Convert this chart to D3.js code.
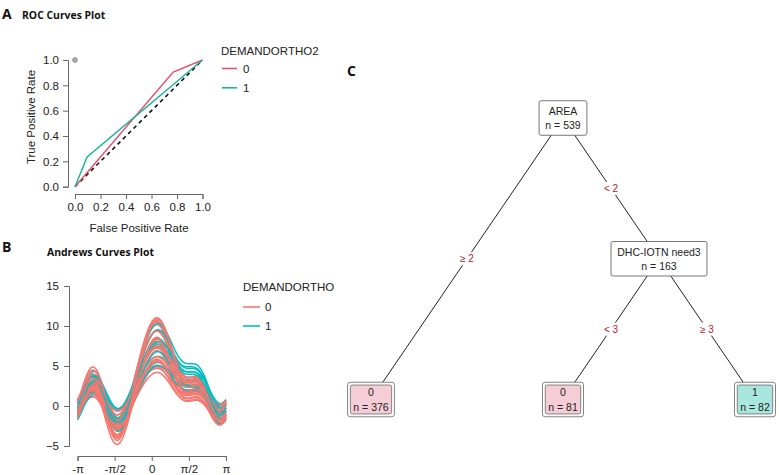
<!DOCTYPE html>
<html><head><meta charset="utf-8">
<script src="https://cdn.jsdelivr.net/npm/d3@7"></script>
<style>body{margin:0;background:#fff} svg{display:block;font-family:"Liberation Sans",Arial,sans-serif}</style>
</head><body><svg id="c" width="779" height="475"></svg>
<script>
// ---------- Panel A: ROC ----------
const rocGroups = ["0", "1"];
const rocFpr0 = [0, 0.77, 1];
const rocTpr0 = [0, 0.905, 1];
const rocFpr1 = [0, 0.095, 1];
const rocTpr1 = [0, 0.235, 1];
const rocTicks = [0, 0.2, 0.4, 0.6, 0.8, 1.0];
const rocPoint = [0, 1];

// ---------- Panel B: Andrews curves (observation rows, coefficients x1..x9) ----------
const andrewsGroups = ["0", "1"];
const andrewsRows0 = [
  [2.89, 1.37, 2.39, 1.30, 1.73, -0.73, 1.26, 0.40, -0.41],
  [3.62, 2.06, 3.59, 1.95, 2.59, -1.10, 1.89, 0.60, -0.62],
  [2.15, 0.82, 1.43, 0.78, 1.04, -0.44, 0.76, 0.24, -0.25],
  [4.17, 1.64, 2.87, 1.56, 2.07, -0.88, 1.51, 0.48, -0.49],
  [0.90, 1.10, 1.91, 1.04, 1.38, -0.58, 1.01, 0.32, -0.33],
  [4.17, 1.85, 3.23, 1.76, 2.33, -0.99, 1.70, 0.54, -0.55],
  [3.43, 0.96, 1.67, 0.91, 1.21, -0.51, 0.88, 0.28, -0.29],
  [1.47, 1.51, 2.63, 1.43, 1.90, -0.80, 1.39, 0.44, -0.45],
  [3.45, 1.23, 2.15, 1.17, 1.55, -0.66, 1.13, 0.36, -0.37],
  [3.90, 1.99, 3.47, 1.89, 2.50, -1.06, 1.83, 0.58, -0.59],
  [1.03, 0.89, 1.55, 0.85, 1.12, -0.47, 0.82, 0.26, -0.27],
  [2.48, 1.71, 2.99, 1.63, 2.16, -0.91, 1.58, 0.50, -0.51],
  [4.30, 1.30, 2.27, 1.24, 1.64, -0.69, 1.20, 0.38, -0.39],
  [2.61, 1.44, 2.51, 1.37, 1.81, -0.77, 1.32, 0.42, -0.43],
  [2.16, 1.03, 1.79, 0.98, 1.29, -0.55, 0.95, 0.30, -0.31],
  [5.03, 1.92, 3.35, 1.82, 2.42, -1.02, 1.76, 0.56, -0.57],
  [1.88, 1.16, 2.03, 1.11, 1.47, -0.62, 1.07, 0.34, -0.35],
  [4.59, 1.58, 2.75, 1.50, 1.98, -0.84, 1.45, 0.46, -0.47],
  [2.80, 0.79, 1.39, 0.75, 1.00, -0.42, 0.73, 0.23, -0.24],
  [2.34, 1.78, 3.11, 1.69, 2.24, -0.95, 1.64, 0.52, -0.53],
  [3.45, 1.37, 2.39, 1.30, 1.73, -0.73, 1.26, 0.40, -0.41],
  [1.33, 1.23, 2.15, 1.17, 1.55, -0.66, 1.13, 0.36, -0.37],
  [5.10, 1.78, 3.11, 2.10, 2.24, -0.95, 1.64, 0.52, -0.53],
  [3.91, 2.56, 3.59, 1.95, 2.59, -1.10, 1.89, 0.60, -0.62],
  [2.05, 2.20, 3.00, 1.60, 2.30, -1.05, 1.70, 0.55, -0.55]
];
const andrewsRows1 = [
  [3.73, 1.77, 2.39, 1.30, 1.13, -0.73, 1.26, 0.30, -0.41],
  [4.19, 2.39, 3.23, 1.76, 1.52, -0.99, 1.70, 0.41, -0.55],
  [3.65, 1.33, 1.79, 0.98, 0.84, -0.55, 0.95, 0.23, -0.31],
  [2.78, 2.12, 2.87, 1.56, 1.35, -0.88, 1.51, 0.36, -0.49],
  [2.27, 1.42, 1.91, 1.04, 0.90, -0.58, 1.01, 0.24, -0.33],
  [5.70, 2.30, 3.11, 1.69, 1.46, -0.95, 1.64, 0.39, -0.53],
  [4.77, 1.59, 2.15, 1.17, 1.01, -0.66, 1.13, 0.27, -0.37],
  [2.12, 1.95, 2.63, 1.43, 1.24, -0.80, 1.39, 0.33, -0.45],
  [4.94, 2.21, 2.99, 1.63, 1.41, -0.91, 1.58, 0.38, -0.51],
  [1.71, 1.42, 1.91, 1.04, 0.90, -0.58, 1.01, 0.24, -0.33],
  [5.01, 1.77, 2.39, 1.30, 0.73, -0.73, 1.26, 0.30, -0.41],
  [4.01, 2.04, 2.75, 1.50, 1.29, -0.84, 1.45, 0.35, -0.47]
];
const andrewsYTicks = [-5, 0, 5, 10, 15];
const andrewsXTicks = [-Math.PI, -Math.PI / 2, 0, Math.PI / 2, Math.PI];
const andrewsXTickLabels = ["-π", "-π/2", "0", "π/2", "π"];

// ---------- Panel C: tree ----------
const treeIds = ["1", "2", "3", "4", "5"];
const treeParents = [null, "1", "1", "3", "3"];
const treeLabels = ["AREA", "0", "DHC-IOTN need3", "0", "1"];
const treeN = [539, 376, 163, 81, 82];
const treeEdgeLabels = ["", "≥ 2", "< 2", "< 3", "≥ 3"];

// =====================================================
const svg = d3.select("#c");
const FONT = '"Liberation Sans", Arial, sans-serif';
const TITLEFONT = '"Open Sans", "Liberation Sans", sans-serif';
const AX = "#666";
const FS = 11.5;

function panelLetter(t, x, y) {
  svg.append("text").attr("x", x).attr("y", y).text(t)
    .attr("font-family", TITLEFONT).attr("font-weight", "bold").attr("font-size", 14).attr("fill", "#111");
}
function panelTitle(t, x, y) {
  svg.append("text").attr("x", x).attr("y", y).text(t)
    .attr("font-family", TITLEFONT).attr("font-weight", "bold").attr("font-size", 10.4).attr("fill", "#111");
}
function styleAxis(g) {
  g.selectAll("path.domain").attr("stroke", AX).attr("stroke-width", 1);
  g.selectAll(".tick line").attr("stroke", AX);
  g.selectAll(".tick text").attr("fill", "#222").attr("font-size", FS).attr("font-family", FONT);
}

// ---------- Panel A ----------
panelLetter("A", 2, 19);
panelTitle("ROC Curves Plot", 22, 19);
const ax = d3.scaleLinear().domain([0, 1]).range([75, 202.5]);
const ay = d3.scaleLinear().domain([0, 1]).range([186.7, 60]);
const gA = svg.append("g");
const xAxA = gA.append("g").attr("transform", "translate(0,194)")
  .call(d3.axisBottom(ax).tickValues(rocTicks).tickFormat(d3.format(".1f")).tickSizeOuter(0).tickSize(5).tickPadding(4));
styleAxis(xAxA);
const yAxA = gA.append("g").attr("transform", "translate(68,0)")
  .call(d3.axisLeft(ay).tickValues(rocTicks).tickFormat(d3.format(".1f")).tickSizeOuter(0).tickSize(5).tickPadding(4));
styleAxis(yAxA);

gA.append("text").attr("x", 139).attr("y", 232).attr("text-anchor", "middle")
  .attr("font-size", FS).attr("fill", "#222").text("False Positive Rate");
gA.append("text").attr("transform", "translate(35,117) rotate(-90)").attr("text-anchor", "middle")
  .attr("font-size", FS).attr("fill", "#222").text("True Positive Rate");

const rocColor = d3.scaleOrdinal().domain(rocGroups).range(["#E0536F", "#1FB29E"]);
const rocLine = d3.line().x(d => ax(d[0])).y(d => ay(d[1]));
gA.append("path").datum([[0, 0], [1, 1]]).attr("d", rocLine)
  .attr("fill", "none").attr("stroke", "#111").attr("stroke-width", 1.6).attr("stroke-dasharray", "4,3.5");
const rocSeries = [d3.zip(rocFpr0, rocTpr0), d3.zip(rocFpr1, rocTpr1)];
rocSeries.forEach((s, i) => {
  gA.append("path").datum(s).attr("d", rocLine).attr("fill", "none")
    .attr("stroke", rocColor(rocGroups[i])).attr("stroke-width", 1.5);
});
gA.append("circle").attr("cx", ax(rocPoint[0])).attr("cy", ay(rocPoint[1])).attr("r", 2.4)
  .attr("fill", "#aaa").attr("stroke", "#888").attr("stroke-width", 0.8);
// legend A
gA.append("text").attr("x", 221).attr("y", 55).attr("font-size", FS).attr("fill", "#222").text("DEMANDORTHO2");
rocGroups.forEach((g, i) => {
  const yy = 68.5 + i * 19.3;
  gA.append("line").attr("x1", 222).attr("x2", 237).attr("y1", yy).attr("y2", yy)
    .attr("stroke", rocColor(g)).attr("stroke-width", 1.6);
  gA.append("text").attr("x", 243).attr("y", yy).attr("dy", "0.36em").attr("font-size", FS).attr("fill", "#222").text(g);
});

// ---------- Panel B ----------
panelLetter("B", 2, 252);
panelTitle("Andrews Curves Plot", 47, 256);
const bx = d3.scaleLinear().domain([-Math.PI, Math.PI]).range([77.5, 226]);
const by = d3.scaleLinear().domain([-5, 15]).range([446, 286]);
const gB = svg.append("g");
const xAxB = gB.append("g").attr("transform", "translate(0,456)")
  .call(d3.axisBottom(bx).tickValues(andrewsXTicks).tickFormat((d, i) => andrewsXTickLabels[i]).tickSizeOuter(0).tickSize(5).tickPadding(4));
styleAxis(xAxB);
const yAxB = gB.append("g").attr("transform", "translate(69,0)")
  .call(d3.axisLeft(by).tickValues(andrewsYTicks).tickSizeOuter(0).tickSize(5).tickPadding(5));
styleAxis(yAxB);

const bColor = d3.scaleOrdinal().domain(andrewsGroups).range(["#F8766D", "#00BFC4"]);
const tVals = d3.range(0, 121).map(i => -Math.PI + 2 * Math.PI * i / 120);
function andrews(row, t) {
  let v = row[0] / Math.SQRT2;
  for (let j = 1; j < row.length; j++) {
    const h = Math.ceil(j / 2);
    v += row[j] * (j % 2 === 1 ? Math.sin(h * t) : Math.cos(h * t));
  }
  return v;
}
const curves = [];
andrewsRows0.forEach((r, i) => curves.push({ g: "0", r, o: i * 10 }));
andrewsRows1.forEach((r, i) => curves.push({ g: "1", r, o: i * 20 + 5 }));
curves.sort((a, b) => a.o - b.o);
const bLine = d3.line().x(d => bx(d[0])).y(d => by(d[1]));
gB.selectAll("path.andrews").data(curves).join("path").attr("class", "andrews")
  .attr("d", c => bLine(tVals.map(t => [t, andrews(c.r, t)])))
  .attr("fill", "none").attr("stroke", c => bColor(c.g)).attr("stroke-width", 1.5);
// legend B
gB.append("text").attr("x", 243).attr("y", 291).attr("font-size", FS).attr("fill", "#222").text("DEMANDORTHO");
andrewsGroups.forEach((g, i) => {
  const yy = 307 + i * 19;
  gB.append("line").attr("x1", 243).attr("x2", 260).attr("y1", yy).attr("y2", yy)
    .attr("stroke", bColor(g)).attr("stroke-width", 1.6);
  gB.append("text").attr("x", 265).attr("y", yy).attr("dy", "0.36em").attr("font-size", FS).attr("fill", "#222").text(g);
});

// ---------- Panel C ----------
panelLetter("C", 347, 76);
const treeData = treeIds.map((id, i) => ({ id, parent: treeParents[i], label: treeLabels[i], n: treeN[i], edge: treeEdgeLabels[i] }));
const root = d3.stratify().id(d => d.id).parentId(d => d.parent)(treeData);
const leaves = root.leaves();
const lx = d3.scalePoint().domain(leaves.map(d => d.id)).range([371, 755]);
const ly = d3.scaleLinear().domain([0, 2]).range([118, 399.5]);
root.each(d => {
  const lv = d.leaves();
  d.px = (lx(lv[0].id) + lx(lv[lv.length - 1].id)) / 2;
  d.py = ly(d.children ? d.depth : 2);
});
const leafFill = d3.scaleOrdinal().domain(["0", "1"]).range(["#F5CDD7", "#A9E6DD"]);
const gC = svg.append("g").attr("font-family", FONT);
root.links().forEach(l => {
  gC.append("line").attr("x1", l.source.px).attr("y1", l.source.py)
    .attr("x2", l.target.px).attr("y2", l.target.py).attr("stroke", "#222").attr("stroke-width", 1);
});
root.links().forEach(l => {
  const mx = (l.source.px + l.target.px) / 2, my = (l.source.py + l.target.py) / 2;
  const t = gC.append("text").attr("x", mx).attr("y", my).attr("dy", "0.35em").attr("text-anchor", "middle")
    .attr("font-size", 10).attr("fill", "#B3202E").text(l.target.data.edge);
  const bb = t.node().getBBox();
  gC.insert("rect", () => t.node()).attr("x", bb.x - 1.5).attr("y", bb.y - 1).attr("width", bb.width + 3)
    .attr("height", bb.height + 2).attr("fill", "#fff");
});
root.each(d => {
  const g = gC.append("g");
  const t1 = g.append("text").attr("x", d.px).attr("y", d.py - 6.8).attr("dy", "0.35em").attr("text-anchor", "middle")
    .attr("font-size", 10.5).attr("fill", "#222").text(d.data.label);
  const t2 = g.append("text").attr("x", d.px).attr("y", d.py + 7.8).attr("dy", "0.35em").attr("text-anchor", "middle")
    .attr("font-size", 10.5).attr("fill", "#222").text("n = " + d.data.n);
  const w = Math.max(t1.node().getComputedTextLength(), t2.node().getComputedTextLength());
  const h = 34.5;
  if (d.children) {
    const bw = w + 12.5;
    g.insert("rect", () => t1.node()).attr("x", d.px - bw / 2).attr("y", d.py - h / 2).attr("width", bw).attr("height", h)
      .attr("rx", 2).attr("fill", "#fff").attr("stroke", "#666").attr("stroke-width", 0.9);
  } else {
    const bw = w + 11.5;
    g.insert("rect", () => t1.node()).attr("x", d.px - bw / 2).attr("y", d.py - h / 2).attr("width", bw).attr("height", h)
      .attr("rx", 2.5).attr("fill", "#fff").attr("stroke", "#777").attr("stroke-width", 0.9);
    g.insert("rect", () => t1.node()).attr("x", d.px - bw / 2 + 2.8).attr("y", d.py - h / 2 + 2.8).attr("width", bw - 5.6).attr("height", h - 5.6)
      .attr("rx", 2).attr("fill", leafFill(d.data.label)).attr("stroke", "#777").attr("stroke-width", 0.9);
  }
});
</script></body></html>
